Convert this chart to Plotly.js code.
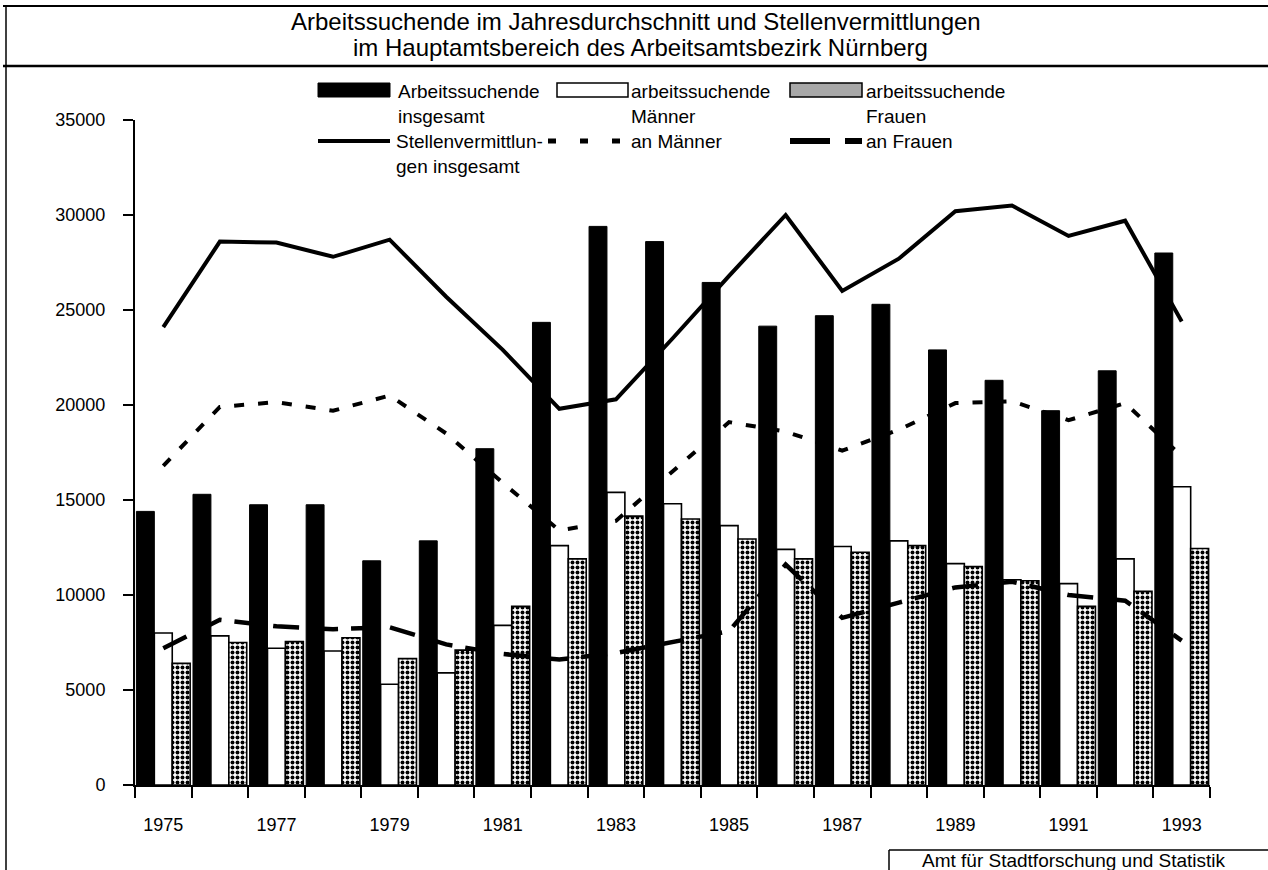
<!DOCTYPE html>
<html>
<head>
<meta charset="utf-8">
<script src="https://cdn.plot.ly/plotly-3.0.1.min.js"></script>
<style>
html,body{margin:0;padding:0;background:#fff;}
#chart{width:1268px;height:870px;}
</style>
</head>
<body>
<div id="chart"></div>
<script>
// ---- data ----
const years = [1975,1976,1977,1978,1979,1980,1981,1982,1983,1984,1985,1986,1987,1988,1989,1990,1991,1992,1993];
const xTickYears = [1975,1977,1979,1981,1983,1985,1987,1989,1991,1993];
const xTickLabels = ['1975','1977','1979','1981','1983','1985','1987','1989','1991','1993'];
const yTickVals = [0,5000,10000,15000,20000,25000,30000,35000];

// Arbeitssuchende im Jahresdurchschnitt
const suchendeInsgesamt = [14400,15300,14750,14750,11800,12850,17700,24350,29400,28600,26450,24150,24700,25300,22900,21300,19700,21800,28000];
const suchendeMaenner   = [8000,7850,7200,7050,5300,5900,8400,12600,15400,14800,13650,12400,12550,12850,11650,10800,10600,11900,15700];
const suchendeFrauen    = [6400,7500,7550,7750,6650,7100,9400,11900,14150,14000,12950,11900,12250,12600,11500,10750,9400,10200,12450];

// Stellenvermittlungen
const vermInsgesamt = [24100,28600,28550,27800,28700,25700,22900,19800,20300,23500,26800,30000,26000,27700,30200,30500,28900,29700,24400];
const vermMaenner   = [16800,19900,20150,19700,20500,18500,15900,13400,13900,16500,19100,18600,17600,18700,20100,20200,19200,20100,17300];
const vermFrauen    = [7200,8700,8350,8200,8300,7400,6900,6600,6950,7550,8100,11600,8800,9600,10400,10700,10000,9700,7600];

const titleLine1 = 'Arbeitssuchende im Jahresdurchschnitt und Stellenvermittlungen';
const titleLine2 = 'im Hauptamtsbereich des Arbeitsamtsbezirk Nürnberg';
const legendLabels = {
  insg: 'Arbeitssuchende<br>insgesamt',
  maen: 'arbeitssuchende<br>Männer',
  frau: 'arbeitssuchende<br>Frauen',
  verm: 'Stellenvermittlun-<br>gen insgesamt',
  vmae: 'an Männer',
  vfra: 'an Frauen'
};
const sourceText = 'Amt für Stadtforschung und Statistik';

// ---- geometry helpers (pixel -> paper) ----
const W = 1268, H = 870;
const M = {l:135, r:58, t:120, b:85};
const PW = W - M.l - M.r, PH = H - M.t - M.b;
const px = x => (x - M.l) / PW;
const py = y => (H - M.b - y) / PH;

const FONT = 'Liberation Sans, Arial, Helvetica, sans-serif';

const traces = [
  {type:'bar', x:years, y:suchendeInsgesamt, name:'insg',
   marker:{color:'#000', line:{color:'#000', width:1}}},
  {type:'bar', x:years, y:suchendeMaenner, name:'maen',
   marker:{color:'#fff', line:{color:'#000', width:1.6}}},
  {type:'bar', x:years, y:suchendeFrauen, name:'frau',
   marker:{color:'#fff', line:{color:'#000', width:1.6},
           pattern:{shape:'.', fgcolor:'#000', bgcolor:'#fff', size:5, solidity:0.5}}},
  {type:'scatter', mode:'lines', x:years, y:vermInsgesamt, name:'verm',
   line:{color:'#000', width:4}},
  {type:'scatter', mode:'lines', x:years, y:vermMaenner, name:'vmae',
   line:{color:'#000', width:4, dash:'10px,14px'}},
  {type:'scatter', mode:'lines', x:years, y:vermFrauen, name:'vfra',
   line:{color:'#000', width:4.5, dash:'26px,13px'}}
];

const boundaries = years.map(y => y - 0.5).concat([years[years.length-1] + 0.5]);

const shapes = [
  // frame lines
  {type:'line', xref:'paper', yref:'paper', x0:px(3), x1:px(1268), y0:py(6), y1:py(6), line:{color:'#000', width:2}},
  {type:'line', xref:'paper', yref:'paper', x0:px(3), x1:px(1268), y0:py(66), y1:py(66), line:{color:'#000', width:2.5}},
  {type:'line', xref:'paper', yref:'paper', x0:px(6), x1:px(6), y0:py(6), y1:py(870), line:{color:'#000', width:1.5}},
  // source box
  {type:'line', xref:'paper', yref:'paper', x0:px(889), x1:px(1268), y0:py(850), y1:py(850), line:{color:'#000', width:1.5}},
  {type:'line', xref:'paper', yref:'paper', x0:px(889), x1:px(889), y0:py(850), y1:py(870), line:{color:'#000', width:1.5}},
  // legend swatches
  {type:'rect', xref:'paper', yref:'paper', x0:px(318), x1:px(390), y0:py(97), y1:py(83), fillcolor:'#000', line:{color:'#000', width:1}},
  {type:'rect', xref:'paper', yref:'paper', x0:px(557), x1:px(628), y0:py(97), y1:py(83), fillcolor:'#fff', line:{color:'#000', width:1.5}},
  {type:'rect', xref:'paper', yref:'paper', x0:px(790), x1:px(862), y0:py(97), y1:py(83), fillcolor:'#a8a8a8', line:{color:'#000', width:1.5}},
  {type:'line', xref:'paper', yref:'paper', x0:px(318), x1:px(390), y0:py(141), y1:py(141), line:{color:'#000', width:4}},
  {type:'line', xref:'paper', yref:'paper', x0:px(548), x1:px(621), y0:py(141), y1:py(141), line:{color:'#000', width:5, dash:'8px,24px'}},
  {type:'line', xref:'paper', yref:'paper', x0:px(790), x1:px(862), y0:py(141), y1:py(141), line:{color:'#000', width:6, dash:'40px,15px'}}
];

const LF = {family:FONT, size:19, color:'#000'};
const annotations = [
  {xref:'paper', yref:'paper', x:px(636), y:py(21), xanchor:'center', yanchor:'middle', showarrow:false, text:titleLine1, font:{family:FONT, size:24, color:'#000'}},
  {xref:'paper', yref:'paper', x:px(640), y:py(48), xanchor:'center', yanchor:'middle', showarrow:false, text:titleLine2, font:{family:FONT, size:24, color:'#000'}},
  {xref:'paper', yref:'paper', x:px(396), y:py(79), xanchor:'left', yanchor:'top', align:'left', showarrow:false, text:legendLabels.insg, font:LF},
  {xref:'paper', yref:'paper', x:px(629), y:py(79), xanchor:'left', yanchor:'top', align:'left', showarrow:false, text:legendLabels.maen, font:LF},
  {xref:'paper', yref:'paper', x:px(864), y:py(79), xanchor:'left', yanchor:'top', align:'left', showarrow:false, text:legendLabels.frau, font:LF},
  {xref:'paper', yref:'paper', x:px(394), y:py(129), xanchor:'left', yanchor:'top', align:'left', showarrow:false, text:legendLabels.verm, font:LF},
  {xref:'paper', yref:'paper', x:px(629), y:py(129), xanchor:'left', yanchor:'top', align:'left', showarrow:false, text:legendLabels.vmae, font:LF},
  {xref:'paper', yref:'paper', x:px(864), y:py(129), xanchor:'left', yanchor:'top', align:'left', showarrow:false, text:legendLabels.vfra, font:LF},
  {xref:'paper', yref:'paper', x:px(1074), y:py(860), xanchor:'center', yanchor:'middle', showarrow:false, text:sourceText, font:{family:FONT, size:19, color:'#000'}}
];

const layout = {
  width:W, height:H,
  margin:{l:M.l, r:M.r, t:M.t, b:M.b, pad:0},
  paper_bgcolor:'#fff', plot_bgcolor:'#fff',
  showlegend:false,
  barmode:'group', bargap:0.05, bargroupgap:0,
  font:{family:FONT, color:'#000'},
  xaxis:{
    type:'linear', range:[boundaries[0], boundaries[boundaries.length-1]],
    showline:true, linecolor:'#000', linewidth:2,
    showgrid:false, zeroline:false,
    tickmode:'array', tickvals:xTickYears, ticktext:xTickLabels,
    ticks:'', ticklabelstandoff:22,
    tickfont:{family:FONT, size:18, color:'#000'},
    minor:{tickmode:'array', tickvals:boundaries, ticks:'outside', ticklen:11, tickwidth:2, tickcolor:'#000', showgrid:false}
  },
  yaxis:{
    range:[0,35000],
    showline:true, linecolor:'#000', linewidth:2,
    showgrid:false, zeroline:false,
    tickmode:'array', tickvals:yTickVals, tickformat:'d',
    ticks:'outside', ticklen:10, tickwidth:2, tickcolor:'#000',
    ticklabelstandoff:14,
    tickfont:{family:FONT, size:18, color:'#000'}
  },
  shapes:shapes,
  annotations:annotations
};

Plotly.newPlot('chart', traces, layout, {displayModeBar:false, staticPlot:true});
</script>
</body>
</html>
